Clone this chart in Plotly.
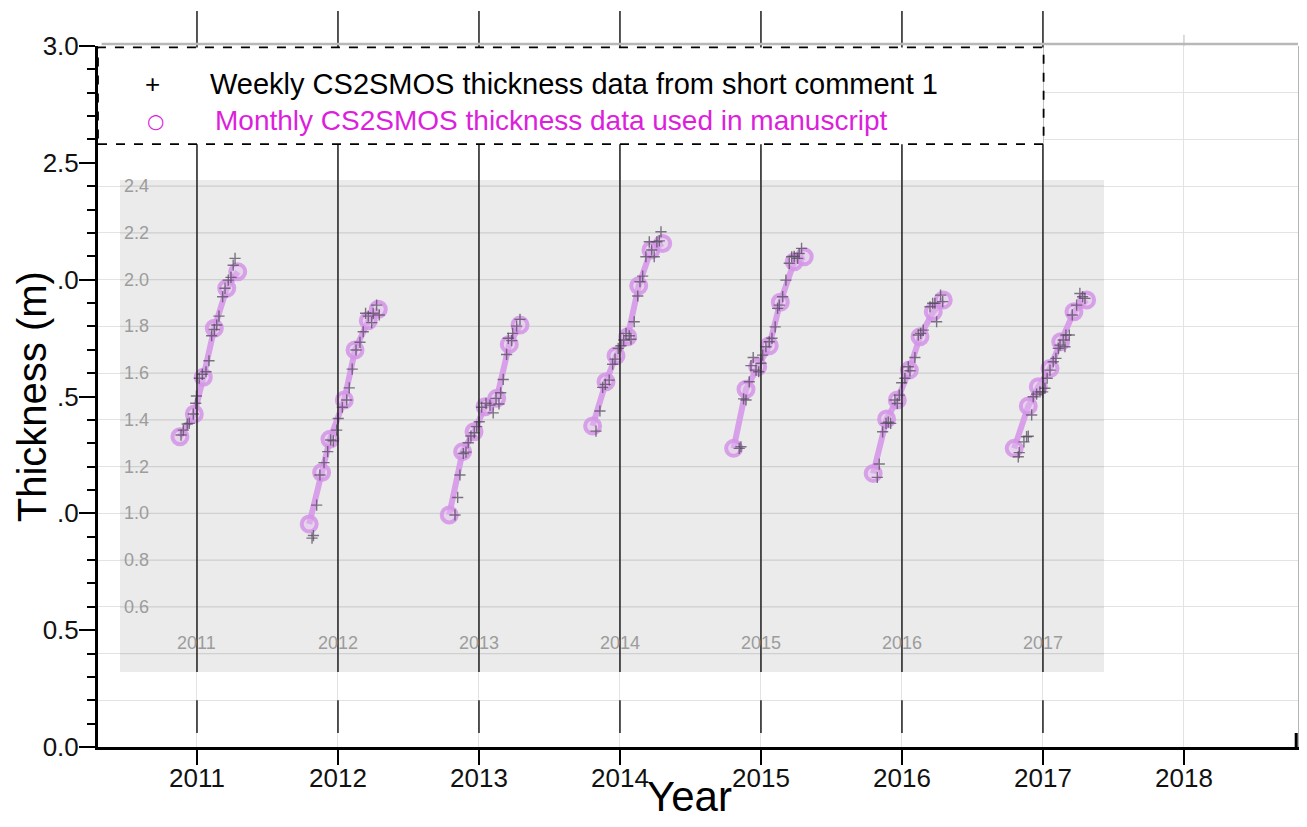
import plotly.graph_objects as go

# ---------------- data (decimal years, thickness in m) ----------------
monthly_x_2011 = [2010.879, 2010.981, 2011.045, 2011.123, 2011.211, 2011.289]
monthly_y_2011 = [1.328, 1.425, 1.582, 1.792, 1.963, 2.034]
monthly_x_2012 = [2011.796, 2011.884, 2011.943, 2012.045, 2012.121, 2012.215, 2012.286]
monthly_y_2012 = [0.954, 1.175, 1.317, 1.485, 1.699, 1.824, 1.873]
monthly_x_2013 = [2012.789, 2012.884, 2012.965, 2013.043, 2013.126, 2013.215, 2013.291]
monthly_y_2013 = [0.993, 1.264, 1.349, 1.456, 1.492, 1.723, 1.806]
monthly_x_2014 = [2013.806, 2013.901, 2013.972, 2014.055, 2014.133, 2014.220, 2014.303]
monthly_y_2014 = [1.374, 1.563, 1.674, 1.756, 1.974, 2.127, 2.155]
monthly_x_2015 = [2014.806, 2014.894, 2014.977, 2015.059, 2015.137, 2015.236, 2015.307]
monthly_y_2015 = [1.278, 1.531, 1.627, 1.717, 1.903, 2.077, 2.098]
monthly_x_2016 = [2015.796, 2015.891, 2015.967, 2016.052, 2016.128, 2016.222, 2016.293]
monthly_y_2016 = [1.171, 1.404, 1.485, 1.613, 1.756, 1.863, 1.913]
monthly_x_2017 = [2016.796, 2016.896, 2016.967, 2017.050, 2017.126, 2017.220, 2017.310]
monthly_y_2017 = [1.278, 1.459, 1.542, 1.620, 1.734, 1.863, 1.913]

weekly_x_2011 = [2010.887, 2010.903, 2010.931, 2010.945, 2010.974, 2010.991, 2010.996, 2011.016,
                 2011.038, 2011.064, 2011.085, 2011.104, 2011.123, 2011.140, 2011.156, 2011.182,
                 2011.199, 2011.222, 2011.241, 2011.257, 2011.270]
weekly_y_2011 = [1.335, 1.356, 1.382, 1.385, 1.425, 1.471, 1.502, 1.578,
                 1.595, 1.606, 1.653, 1.760, 1.787, 1.806, 1.844, 1.927,
                 1.963, 1.998, 2.010, 2.062, 2.091]
weekly_x_2012 = [2011.816, 2011.826, 2011.849, 2011.872, 2011.901, 2011.927, 2011.948, 2011.967,
                 2011.991, 2012.002, 2012.031, 2012.062, 2012.080, 2012.101, 2012.128, 2012.156,
                 2012.179, 2012.196, 2012.215, 2012.239, 2012.250, 2012.274, 2012.293]
weekly_y_2012 = [0.894, 0.905, 1.035, 1.164, 1.217, 1.264, 1.314, 1.310,
                 1.356, 1.406, 1.454, 1.485, 1.537, 1.617, 1.699, 1.732,
                 1.777, 1.856, 1.844, 1.816, 1.856, 1.891, 1.849]
weekly_x_2013 = [2012.830, 2012.849, 2012.865, 2012.889, 2012.908, 2012.924, 2012.943, 2012.967,
                 2012.984, 2013.002, 2013.019, 2013.050, 2013.078, 2013.101, 2013.121, 2013.142,
                 2013.154, 2013.172, 2013.196, 2013.208, 2013.232, 2013.239, 2013.267, 2013.291]
weekly_y_2013 = [0.993, 1.068, 1.164, 1.256, 1.262, 1.302, 1.331, 1.345,
                 1.371, 1.392, 1.454, 1.471, 1.463, 1.430, 1.492, 1.468,
                 1.516, 1.573, 1.680, 1.749, 1.739, 1.770, 1.801, 1.830]
weekly_x_2014 = [2013.830, 2013.858, 2013.877, 2013.896, 2013.924, 2013.948, 2013.965, 2013.988,
                 2014.007, 2014.026, 2014.043, 2014.066, 2014.078, 2014.101, 2014.126, 2014.142,
                 2014.161, 2014.184, 2014.208, 2014.225, 2014.243, 2014.262, 2014.279, 2014.291]
weekly_y_2014 = [1.352, 1.438, 1.539, 1.552, 1.570, 1.638, 1.660, 1.706,
                 1.717, 1.742, 1.770, 1.760, 1.745, 1.820, 1.930, 1.991,
                 2.015, 2.098, 2.162, 2.127, 2.098, 2.162, 2.166, 2.205]
weekly_x_2015 = [2014.846, 2014.858, 2014.877, 2014.894, 2014.917, 2014.929, 2014.945, 2014.965,
                 2014.984, 2015.000, 2015.012, 2015.035, 2015.059, 2015.078, 2015.101, 2015.118,
                 2015.130, 2015.154, 2015.177, 2015.201, 2015.218, 2015.236, 2015.260, 2015.271,
                 2015.288]
weekly_y_2015 = [1.278, 1.285, 1.490, 1.485, 1.563, 1.632, 1.667, 1.613,
                 1.606, 1.642, 1.677, 1.713, 1.734, 1.749, 1.798, 1.877,
                 1.891, 1.927, 1.998, 2.070, 2.098, 2.100, 2.091, 2.112,
                 2.134]
weekly_x_2016 = [2015.825, 2015.839, 2015.863, 2015.887, 2015.903, 2015.920, 2015.950, 2015.967,
                 2015.981, 2015.998, 2016.021, 2016.045, 2016.057, 2016.092, 2016.116, 2016.133,
                 2016.151, 2016.199, 2016.218, 2016.234, 2016.246, 2016.274, 2016.289]
weekly_y_2016 = [1.154, 1.211, 1.349, 1.385, 1.390, 1.385, 1.485, 1.470,
                 1.506, 1.559, 1.578, 1.627, 1.610, 1.667, 1.763, 1.770,
                 1.784, 1.884, 1.899, 1.899, 1.820, 1.934, 1.906]
weekly_x_2017 = [2016.825, 2016.832, 2016.865, 2016.884, 2016.896, 2016.920, 2016.931, 2016.955,
                 2016.979, 2016.998, 2017.014, 2017.030, 2017.050, 2017.073, 2017.092, 2017.109,
                 2017.121, 2017.144, 2017.156, 2017.163, 2017.187, 2017.208, 2017.239, 2017.262,
                 2017.281, 2017.298]
weekly_y_2017 = [1.242, 1.260, 1.306, 1.328, 1.330, 1.421, 1.499, 1.510,
                 1.520, 1.520, 1.535, 1.578, 1.613, 1.649, 1.663, 1.706,
                 1.720, 1.742, 1.713, 1.763, 1.763, 1.849, 1.891, 1.941,
                 1.927, 1.920]

year_ticks = [2011, 2012, 2013, 2014, 2015, 2016, 2017, 2018]
season_years = [2011, 2012, 2013, 2014, 2015, 2016, 2017]
y_tickvals = [0.0, 0.5, 1.0, 1.5, 2.0, 2.5, 3.0]
y_ticktext = ["0.0", "0.5", ".0", ".5", ".0", "2.5", "3.0"]
inner_y_vals = [0.6, 0.8, 1.0, 1.2, 1.4, 1.6, 1.8, 2.0, 2.2, 2.4]
inner_y_text = ["0.6", "0.8", "1.0", "1.2", "1.4", "1.6", "1.8", "2.0", "2.2", "2.4"]
inner_grid_vals = [0.4, 0.6, 0.8, 1.0, 1.2, 1.4, 1.6, 1.8, 2.0, 2.2, 2.4]

legend_weekly = "Weekly CS2SMOS thickness data from short comment 1"
legend_monthly = "Monthly CS2SMOS thickness data used in manuscript"

monthly_x_sets = [monthly_x_2011, monthly_x_2012, monthly_x_2013, monthly_x_2014,
                  monthly_x_2015, monthly_x_2016, monthly_x_2017]
monthly_y_sets = [monthly_y_2011, monthly_y_2012, monthly_y_2013, monthly_y_2014,
                  monthly_y_2015, monthly_y_2016, monthly_y_2017]
weekly_x_sets = [weekly_x_2011, weekly_x_2012, weekly_x_2013, weekly_x_2014,
                 weekly_x_2015, weekly_x_2016, weekly_x_2017]
weekly_y_sets = [weekly_y_2011, weekly_y_2012, weekly_y_2013, weekly_y_2014,
                 weekly_y_2015, weekly_y_2016, weekly_y_2017]

# ---------------- styling constants ----------------
X_RANGE = [2010.298, 2018.809]
Y_RANGE = [0.0, 3.0]
PANEL_X = [2010.454, 2017.433]
PANEL_Y = [0.321, 2.426]
FONT = "Liberation Sans, Arial, Helvetica, sans-serif"
LILAC = "rgba(212,148,230,0.85)"
LILAC_FILL = "rgba(225,185,238,0.45)"
MAGENTA = "#dc1fdc"
GREY_TXT = "#9c9c9c"

fig = go.Figure()

# monthly series: line + open circles, one gap between seasons
mx, my = [], []
for xs, ys in zip(monthly_x_sets, monthly_y_sets):
    mx += xs + [None]
    my += ys + [None]
fig.add_trace(go.Scatter(
    x=mx, y=my, mode="lines+markers", connectgaps=False,
    line=dict(color="rgba(214,156,232,0.95)", width=6),
    marker=dict(symbol="circle", size=15, color=LILAC_FILL,
                line=dict(color=LILAC, width=4)),
    showlegend=False, hoverinfo="x+y"))

# weekly series: thin crosses
wx, wy = [], []
for xs, ys in zip(weekly_x_sets, weekly_y_sets):
    wx += xs
    wy += ys
fig.add_trace(go.Scatter(
    x=wx, y=wy, mode="markers",
    marker=dict(symbol="cross-thin", size=8,
                line=dict(color="rgba(85,75,95,0.75)", width=1.4)),
    showlegend=False, hoverinfo="x+y"))

# helper trace to activate the right-hand axis
fig.add_trace(go.Scatter(x=[X_RANGE[0]], y=[Y_RANGE[0]], yaxis="y2", mode="markers",
                         marker=dict(opacity=0), showlegend=False, hoverinfo="skip"))

shapes = []
# grey inner panel
shapes.append(dict(type="rect", xref="x", yref="y", layer="below",
                   x0=PANEL_X[0], x1=PANEL_X[1], y0=PANEL_Y[0], y1=PANEL_Y[1],
                   fillcolor="#ebebeb", line=dict(width=0)))
# inner panel gridlines
for v in inner_grid_vals:
    shapes.append(dict(type="line", xref="x", yref="y", layer="between",
                       x0=PANEL_X[0], x1=PANEL_X[1], y0=v, y1=v,
                       line=dict(color="#d0d0d0", width=1.3)))
# dark year lines (top part and small bottom part)
for yr in season_years:
    shapes.append(dict(type="line", xref="x", yref="paper", layer="above",
                       x0=yr, x1=yr, y0=PANEL_Y[0] / Y_RANGE[1], y1=1.05,
                       line=dict(color="#2a2a2a", width=1.6)))
    shapes.append(dict(type="line", xref="x", yref="y", layer="above",
                       x0=yr, x1=yr, y0=0.2, y1=0.06,
                       line=dict(color="#2a2a2a", width=1.6)))
# light 2018 top tick
shapes.append(dict(type="line", xref="x", yref="paper", layer="above",
                   x0=2018, x1=2018, y0=1.0, y1=1.016,
                   line=dict(color="#d0d0d0", width=1.5)))
# top grey frame line
shapes.append(dict(type="line", xref="paper", yref="paper", layer="above",
                   x0=0.003, x1=1.0, y0=1.003, y1=1.003,
                   line=dict(color="#b8b8b8", width=2.5)))
# dashed legend box
shapes.append(dict(type="rect", xref="paper", yref="paper", layer="above",
                   x0=0.0, x1=0.788, y0=0.860, y1=0.998,
                   fillcolor="white", line=dict(color="black", width=1.8, dash="dash")))
# black stub at bottom-right corner
shapes.append(dict(type="line", xref="paper", yref="paper", layer="above",
                   x0=0.9985, x1=0.9985, y0=0.0, y1=0.02,
                   line=dict(color="black", width=3)))

annotations = []
# inner panel y labels
for v, t in zip(inner_y_vals, inner_y_text):
    annotations.append(dict(x=PANEL_X[0] + 0.012, y=v, xref="x", yref="y", text=t,
                            showarrow=False, xanchor="left", yanchor="middle",
                            font=dict(family=FONT, size=18, color=GREY_TXT)))
# inner panel year labels
for yr in season_years:
    annotations.append(dict(x=yr, y=0.446, xref="x", yref="y", text=str(yr),
                            showarrow=False, xanchor="center", yanchor="middle",
                            font=dict(family=FONT, size=18, color=GREY_TXT)))
# legend contents
annotations += [
    dict(x=0.0458, y=0.946, xref="paper", yref="paper", text="+", showarrow=False,
         xanchor="center", yanchor="middle", font=dict(family=FONT, size=26, color="black")),
    dict(x=0.0917, y=0.946, xref="paper", yref="paper", text=legend_weekly, showarrow=False,
         xanchor="left", yanchor="middle", font=dict(family=FONT, size=29, color="black")),
    dict(x=0.0475, y=0.893, xref="paper", yref="paper", text="○", showarrow=False,
         xanchor="center", yanchor="middle", font=dict(family="DejaVu Sans", size=20, color=MAGENTA)),
    dict(x=0.0958, y=0.894, xref="paper", yref="paper", text=legend_monthly, showarrow=False,
         xanchor="left", yanchor="middle", font=dict(family=FONT, size=28, color=MAGENTA)),
    # axis titles
    dict(x=-0.055, y=0.499, xref="paper", yref="paper", text="Thickness (m)", showarrow=False,
         textangle=-90, xanchor="center", yanchor="middle",
         font=dict(family=FONT, size=40, color="black")),
    dict(x=0.493, y=-0.107, xref="paper", yref="paper", text="Year", showarrow=False,
         xanchor="center", yanchor="bottom", font=dict(family=FONT, size=42, color="black")),
]

fig.update_layout(
    width=1291, height=811,
    margin=dict(l=90, r=1, t=38, b=72, autoexpand=False),
    paper_bgcolor="white", plot_bgcolor="white",
    showlegend=False,
    shapes=shapes, annotations=annotations,
    xaxis=dict(range=X_RANGE, tickvals=year_ticks, ticktext=[str(v) for v in year_ticks],
               automargin=False,
               ticks="outside", ticklen=15, tickwidth=1.5, tickcolor="black",
               ticklabelstandoff=-9,
               showline=True, linecolor="black", linewidth=3,
               showgrid=True, gridcolor="#e3e3e3", gridwidth=1.2, zeroline=False,
               tickfont=dict(family=FONT, size=26, color="#111")),
    yaxis=dict(range=Y_RANGE, tickvals=y_tickvals, ticktext=y_ticktext,
               automargin=False,
               ticks="outside", ticklen=16, tickwidth=1.5, tickcolor="black",
               ticklabelstandoff=-5,
               minor=dict(dtick=0.1, ticklen=8, tickwidth=1.5, tickcolor="black",
                          ticks="outside", showgrid=False),
               showline=True, linecolor="black", linewidth=3,
               showgrid=False, zeroline=False,
               tickfont=dict(family=FONT, size=26, color="#111")),
    yaxis2=dict(range=Y_RANGE, overlaying="y", side="right", anchor="x",
                automargin=False,
                dtick=0.2, tick0=0, ticks="outside", ticklen=8, tickwidth=1.5,
                tickcolor="#b4b4b4",
                minor=dict(dtick=0.1, ticklen=8, tickwidth=1.5, tickcolor="#b4b4b4",
                           ticks="outside", showgrid=False),
                showticklabels=False, showline=True, linecolor="#b4b4b4", linewidth=3,
                showgrid=True, gridcolor="#e3e3e3", gridwidth=1.2, zeroline=False),
)

fig.write_html("out.html")
